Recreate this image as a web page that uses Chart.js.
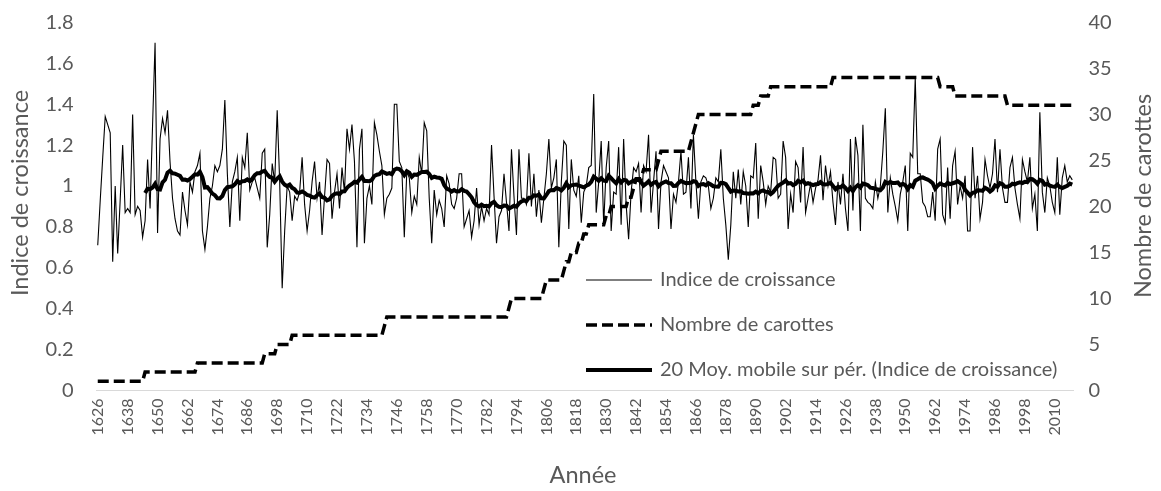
<!DOCTYPE html>
<html>
<head>
<meta charset="utf-8">
<title>Indice de croissance</title>
<script src="https://cdn.jsdelivr.net/npm/chart.js@4.4.0/dist/chart.umd.min.js"></script>
<style>
  html, body { margin: 0; padding: 0; background: #ffffff; }
  #chart { display: block; }
</style>
</head>
<body>
<canvas id="chart" width="1161" height="491"></canvas>
<script>
// Data (one value per year from 1626)
const firstYear = 1626;
const labelEvery = 12;

const indiceCroissance = [
  0.71, 0.93, 1.14, 1.34, 1.30, 1.26, 0.63, 1.00, 0.67, 0.93,
  1.20, 0.87, 0.89, 0.87, 1.35, 0.86, 0.90, 0.88, 0.75, 0.83,
  1.13, 0.89, 1.30, 1.70, 0.77, 1.23, 1.33, 1.26, 1.37, 1.12,
  0.94, 0.84, 0.78, 0.76, 0.97, 0.88, 0.81, 1.02, 0.97, 1.07,
  1.10, 1.16, 0.78, 0.69, 0.80, 0.94, 1.00, 1.10, 1.07, 1.10,
  1.18, 1.42, 1.06, 0.80, 1.02, 1.07, 1.14, 0.83, 1.14, 1.09,
  1.26, 0.98, 1.02, 1.04, 0.99, 0.94, 1.16, 1.18, 0.70, 0.86,
  1.11, 1.02, 1.37, 1.02, 0.50, 0.78, 1.00, 0.97, 0.83, 0.95,
  0.93, 0.97, 1.14, 0.91, 0.78, 0.88, 1.02, 1.12, 0.94, 1.02,
  0.76, 0.95, 1.13, 1.11, 0.84, 0.97, 1.06, 0.89, 1.09, 0.97,
  1.28, 1.18, 1.30, 1.12, 0.70, 1.18, 1.28, 0.72, 0.94, 1.00,
  0.91, 1.31, 1.25, 1.17, 1.10, 0.86, 0.94, 0.96, 0.99, 1.40,
  1.40, 1.12, 1.09, 0.75, 1.07, 1.04, 0.87, 0.95, 0.91, 1.14,
  1.06, 1.31, 1.27, 0.94, 0.72, 0.98, 0.86, 0.93, 0.89, 0.80,
  1.05, 1.01, 0.91, 0.89, 0.94, 1.06, 1.06, 0.80, 0.84, 0.88,
  0.75, 0.83, 0.99, 0.81, 0.90, 0.83, 0.89, 0.86, 1.20, 0.95,
  0.72, 0.85, 0.88, 1.06, 0.92, 0.78, 1.18, 0.95, 0.76, 1.18,
  0.94, 0.94, 0.91, 1.16, 0.90, 1.06, 0.85, 0.98, 0.82, 0.94,
  1.06, 1.23, 0.99, 1.04, 1.13, 0.70, 1.02, 1.22, 1.20, 0.79,
  1.13, 0.98, 0.95, 1.05, 0.82, 0.97, 1.00, 1.09, 1.10, 1.45,
  0.87, 1.02, 1.22, 0.81, 1.09, 1.22, 0.78, 0.97, 0.96, 1.19,
  0.81, 1.23, 0.91, 0.74, 0.97, 1.09, 1.07, 1.11, 0.87, 1.10,
  1.07, 1.25, 0.87, 1.02, 1.17, 0.79, 1.02, 1.10, 1.07, 1.04,
  0.79, 0.96, 0.92, 1.02, 1.17, 0.96, 0.97, 1.14, 0.89, 1.25,
  1.02, 0.84, 1.02, 1.05, 1.04, 1.00, 0.89, 0.94, 1.04, 1.02,
  1.18, 0.94, 0.81, 0.64, 0.81, 1.07, 0.94, 1.08, 0.91, 1.07,
  1.00, 0.80, 1.05, 1.04, 1.21, 0.84, 1.10, 1.02, 0.91, 1.00,
  0.97, 1.14, 1.13, 0.94, 0.96, 1.22, 1.14, 0.79, 0.96, 0.87,
  1.12, 1.09, 0.92, 1.19, 0.87, 0.94, 1.01, 0.92, 0.99, 1.03,
  1.15, 0.93, 1.10, 1.00, 1.07, 0.92, 0.81, 1.02, 0.91, 1.06,
  0.89, 0.78, 1.23, 0.88, 1.24, 1.15, 0.78, 1.30, 0.94, 0.92,
  0.91, 0.89, 1.02, 0.94, 1.00, 1.17, 1.38, 0.87, 1.04, 0.96,
  0.90, 0.83, 0.96, 1.02, 1.10, 0.78, 1.16, 1.14, 1.53, 1.06,
  1.06, 0.92, 0.90, 0.85, 0.85, 0.97, 0.83, 1.18, 1.23, 0.86,
  0.82, 1.09, 0.84, 1.10, 1.17, 0.91, 1.00, 0.94, 1.05, 0.78,
  0.78, 1.19, 0.94, 1.05, 0.84, 0.92, 1.13, 1.05, 0.99, 1.06,
  1.23, 0.97, 1.18, 0.99, 0.92, 0.92, 1.09, 1.14, 0.99, 0.91,
  0.84, 1.13, 1.07, 1.02, 1.14, 0.89, 0.96, 0.78, 1.36, 0.97,
  0.87, 1.04, 1.00, 0.92, 0.87, 1.14, 0.86, 1.04, 1.10, 1.02,
  1.05, 1.03
];

const nombreCarottes = [
  1, 1, 1, 1, 1, 1, 1, 1, 1, 1,
  1, 1, 1, 1, 1, 1, 1, 1, 1, 2,
  2, 2, 2, 2, 2, 2, 2, 2, 2, 2,
  2, 2, 2, 2, 2, 2, 2, 2, 2, 2,
  3, 3, 3, 3, 3, 3, 3, 3, 3, 3,
  3, 3, 3, 3, 3, 3, 3, 3, 3, 3,
  3, 3, 3, 3, 3, 3, 3, 4, 4, 4,
  4, 4, 5, 5, 5, 5, 5, 5, 6, 6,
  6, 6, 6, 6, 6, 6, 6, 6, 6, 6,
  6, 6, 6, 6, 6, 6, 6, 6, 6, 6,
  6, 6, 6, 6, 6, 6, 6, 6, 6, 6,
  6, 6, 6, 6, 6, 7, 8, 8, 8, 8,
  8, 8, 8, 8, 8, 8, 8, 8, 8, 8,
  8, 8, 8, 8, 8, 8, 8, 8, 8, 8,
  8, 8, 8, 8, 8, 8, 8, 8, 8, 8,
  8, 8, 8, 8, 8, 8, 8, 8, 8, 8,
  8, 8, 8, 8, 8, 9, 10, 10, 10, 10,
  10, 10, 10, 10, 10, 10, 10, 10, 10, 11,
  12, 12, 12, 12, 12, 12, 12, 13, 14, 14,
  15, 15, 15, 16, 16, 17, 17, 18, 18, 18,
  18, 18, 18, 18, 19, 19, 20, 20, 20, 20,
  20, 20, 20, 21, 21, 22, 23, 23, 23, 24,
  24, 24, 24, 24, 24, 25, 26, 26, 26, 26,
  26, 26, 26, 26, 26, 26, 26, 26, 27, 28,
  29, 30, 30, 30, 30, 30, 30, 30, 30, 30,
  30, 30, 30, 30, 30, 30, 30, 30, 30, 30,
  30, 30, 30, 31, 31, 31, 32, 32, 32, 32,
  33, 33, 33, 33, 33, 33, 33, 33, 33, 33,
  33, 33, 33, 33, 33, 33, 33, 33, 33, 33,
  33, 33, 33, 33, 33, 34, 34, 34, 34, 34,
  34, 34, 34, 34, 34, 34, 34, 34, 34, 34,
  34, 34, 34, 34, 34, 34, 34, 34, 34, 34,
  34, 34, 34, 34, 34, 34, 34, 34, 34, 34,
  34, 34, 34, 34, 34, 34, 34, 34, 33, 33,
  33, 33, 33, 33, 32, 32, 32, 32, 32, 32,
  32, 32, 32, 32, 32, 32, 32, 32, 32, 32,
  32, 32, 32, 32, 32, 31, 31, 31, 31, 31,
  31, 31, 31, 31, 31, 31, 31, 31, 31, 31,
  31, 31, 31, 31, 31, 31, 31, 31, 31, 31,
  31, 31
];

const leftTicks = { min: 0, max: 1.8, step: 0.2 };
const rightTicks = { min: 0, max: 40, step: 5 };
const movingPeriod = 20;

const years = indiceCroissance.map((v, i) => String(firstYear + i));

// Excel style trailing moving average (trendline of the index)
function movingAverage(values, period) {
  return values.map((v, i) => {
    if (i < period - 1) return null;
    let sum = 0;
    for (let k = i - period + 1; k <= i; k++) sum += values[k];
    return sum / period;
  });
}

const textColor = '#595959';
const fontFamily = 'Lato, "Open Sans", sans-serif';

// Axis titles and the legend sit inside the plot like in Excel
const decorPlugin = {
  id: 'decor',
  afterDraw(chart) {
    const ctx = chart.ctx;
    ctx.save();
    ctx.fillStyle = textColor;
    ctx.font = '23.5px ' + fontFamily;
    ctx.textAlign = 'center';
    ctx.textBaseline = 'middle';

    ctx.save();
    ctx.translate(20, 193);
    ctx.rotate(-Math.PI / 2);
    ctx.fillText('Indice de croissance', 0, 0);
    ctx.restore();

    ctx.save();
    ctx.translate(1143, 196);
    ctx.rotate(-Math.PI / 2);
    ctx.fillText('Nombre de carottes', 0, 0);
    ctx.restore();

    ctx.fillText('Année', 583, 475);

    // legend
    const rows = [280, 325, 370];
    ctx.textAlign = 'left';
    ctx.font = '20px ' + fontFamily;
    chart.data.datasets.forEach((ds, i) => {
      const y = rows[i];
      ctx.save();
      ctx.strokeStyle = ds.borderColor;
      ctx.lineWidth = ds.borderWidth;
      ctx.setLineDash(ds.borderDash || []);
      ctx.beginPath();
      ctx.moveTo(586, y);
      ctx.lineTo(652, y);
      ctx.stroke();
      ctx.restore();
      ctx.fillText(ds.label, 660, y);
    });
    ctx.restore();
  }
};

// keep the plot box where Excel put it
function fixWidth(width) {
  return function(scale) {
    scale.width = width;
    scale.paddingTop = 0;
    scale.paddingBottom = 0;
  };
}

const ctx = document.getElementById('chart');

new Chart(ctx, {
  type: 'line',
  data: {
    labels: years,
    datasets: [
      {
        label: 'Indice de croissance',
        data: indiceCroissance,
        yAxisID: 'y',
        borderColor: '#000000',
        borderWidth: 1.1,
        pointRadius: 0,
        tension: 0,
        order: 2
      },
      {
        label: 'Nombre de carottes',
        data: nombreCarottes,
        yAxisID: 'y1',
        borderColor: '#000000',
        borderWidth: 3.5,
        borderDash: [11, 5],
        pointRadius: 0,
        tension: 0,
        order: 1
      },
      {
        label: '20 Moy. mobile sur pér. (Indice de croissance)',
        data: movingAverage(indiceCroissance, movingPeriod),
        yAxisID: 'y',
        borderColor: '#000000',
        borderWidth: 4,
        pointRadius: 0,
        tension: 0,
        order: 0
      }
    ]
  },
  options: {
    responsive: false,
    animation: false,
    devicePixelRatio: 1,
    layout: {
      padding: { top: 22.4, left: 0, right: 0, bottom: 0 }
    },
    plugins: {
      legend: { display: false },
      tooltip: { enabled: false }
    },
    scales: {
      x: {
        type: 'category',
        offset: true,
        grid: { display: false, drawTicks: false },
        border: { display: true, color: '#d9d9d9', width: 1 },
        ticks: {
          autoSkip: false,
          minRotation: 90,
          maxRotation: 90,
          padding: 8,
          color: textColor,
          font: { family: fontFamily, size: 16 },
          callback: function(value, index) {
            return index % labelEvery === 0 ? this.getLabelForValue(value) : null;
          }
        },
        afterFit: function(scale) {
          scale.height = 100.5;
        }
      },
      y: {
        position: 'left',
        min: leftTicks.min,
        max: leftTicks.max,
        grid: { display: false, drawTicks: false },
        border: { display: false },
        ticks: {
          stepSize: leftTicks.step,
          padding: 23,
          color: textColor,
          font: { family: fontFamily, size: 20 },
          callback: v => String(Math.round(v * 10) / 10)
        },
        afterFit: fixWidth(96.5)
      },
      y1: {
        position: 'right',
        min: rightTicks.min,
        max: rightTicks.max,
        grid: { display: false, drawTicks: false },
        border: { display: false },
        ticks: {
          stepSize: rightTicks.step,
          padding: 15,
          color: textColor,
          font: { family: fontFamily, size: 20 }
        },
        afterFit: fixWidth(87.5)
      }
    }
  },
  plugins: [decorPlugin]
});
</script>
</body>
</html>
